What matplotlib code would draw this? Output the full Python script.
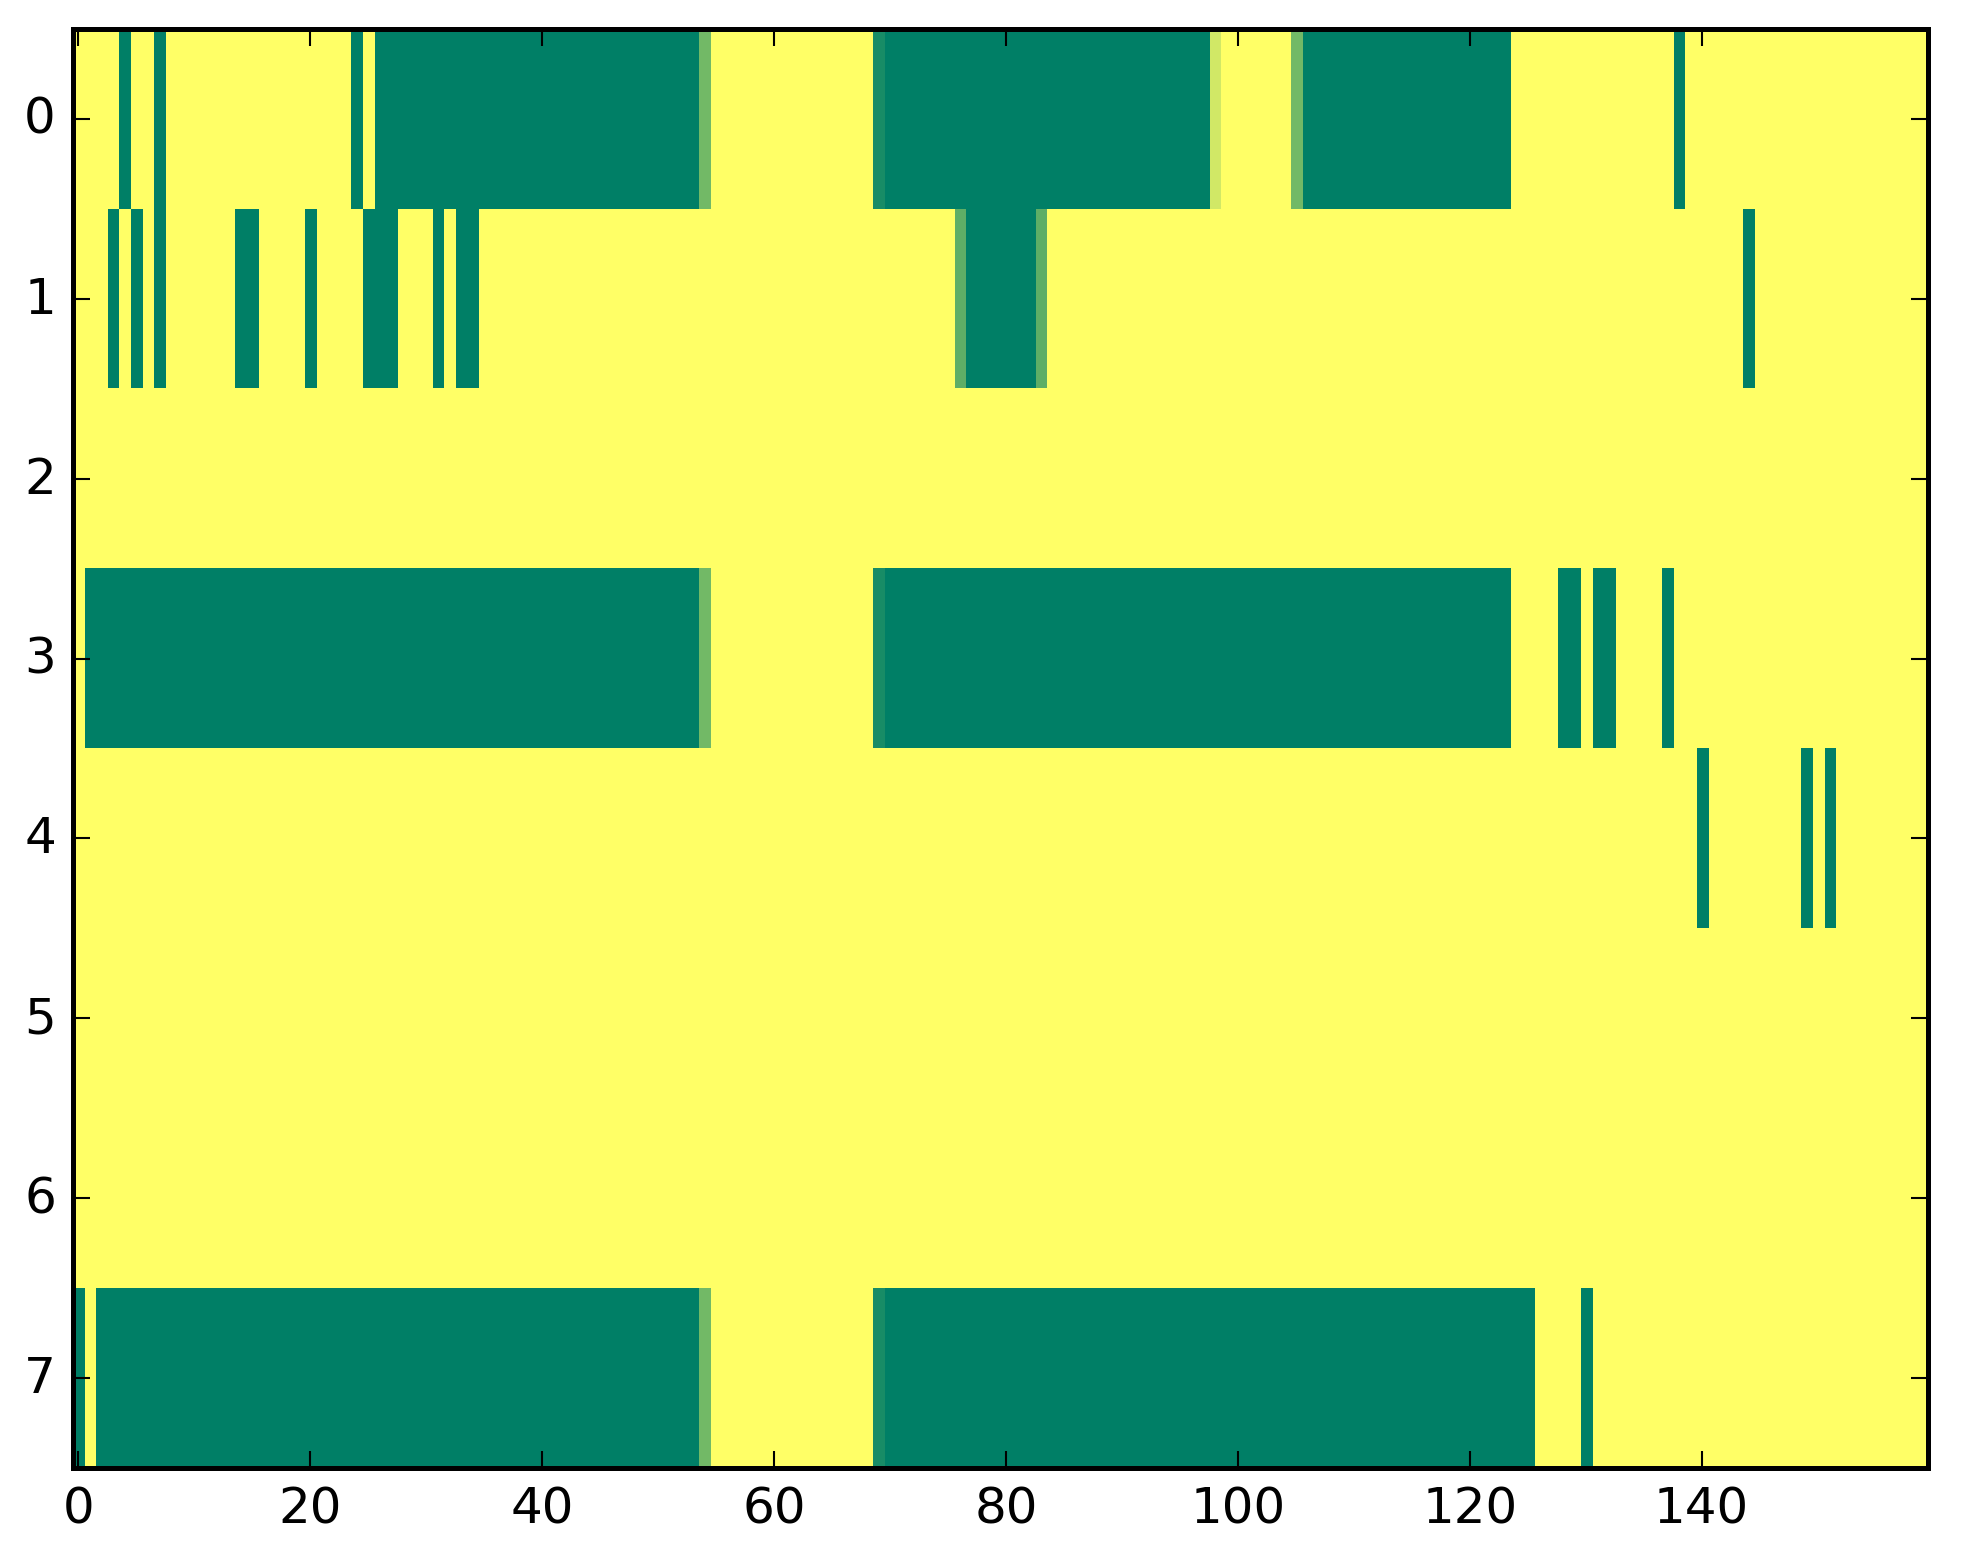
import numpy as np
import matplotlib
matplotlib.use("Agg")
import matplotlib.pyplot as plt

plt.style.use("classic")

n_rows = 8
n_cols = 160

# runs per row: (first column, last column inclusive, value)
row0_runs = [(4, 4, 1.0), (7, 7, 1.0), (24, 24, 1.0), (26, 53, 1.0), (54, 54, 0.55),
             (69, 69, 0.9), (70, 97, 1.0), (98, 98, 0.18), (105, 105, 0.55),
             (106, 123, 1.0), (138, 138, 1.0)]
row1_runs = [(3, 3, 1.0), (5, 5, 1.0), (7, 7, 1.0), (14, 15, 1.0), (20, 20, 1.0),
             (25, 27, 1.0), (31, 31, 1.0), (33, 34, 1.0), (76, 76, 0.63),
             (77, 82, 1.0), (83, 83, 0.63), (144, 144, 1.0)]
row2_runs = []
row3_runs = [(1, 53, 1.0), (54, 54, 0.55), (69, 69, 0.9), (70, 123, 1.0),
             (128, 129, 1.0), (131, 132, 1.0), (137, 137, 1.0)]
row4_runs = [(140, 140, 1.0), (149, 149, 1.0), (151, 151, 1.0)]
row5_runs = []
row6_runs = []
row7_runs = [(0, 0, 1.0), (2, 53, 1.0), (54, 54, 0.55), (69, 69, 0.9),
             (70, 125, 1.0), (130, 130, 1.0)]

all_runs = [row0_runs, row1_runs, row2_runs, row3_runs,
            row4_runs, row5_runs, row6_runs, row7_runs]

data = np.zeros((n_rows, n_cols))
for r, runs in enumerate(all_runs):
    for a, b, v in runs:
        data[r, a:b + 1] = v

fig = plt.figure(figsize=(1963 / 300, 1564 / 300), dpi=300, facecolor="white")
ax = fig.add_axes([0.037, 0.0608, 0.945, 0.920])
ax.imshow(data, cmap="summer_r", vmin=0, vmax=1, interpolation="nearest",
          aspect="auto")
ax.set_xticks([0, 20, 40, 60, 80, 100, 120, 140])
ax.set_yticks(range(n_rows))
ax.set_xlim(-0.5, n_cols - 0.5)
ax.set_ylim(n_rows - 0.5, -0.5)
for sp in ax.spines.values():
    sp.set_linewidth(1.2)

fig.savefig("out.png", dpi=300, facecolor="white")
